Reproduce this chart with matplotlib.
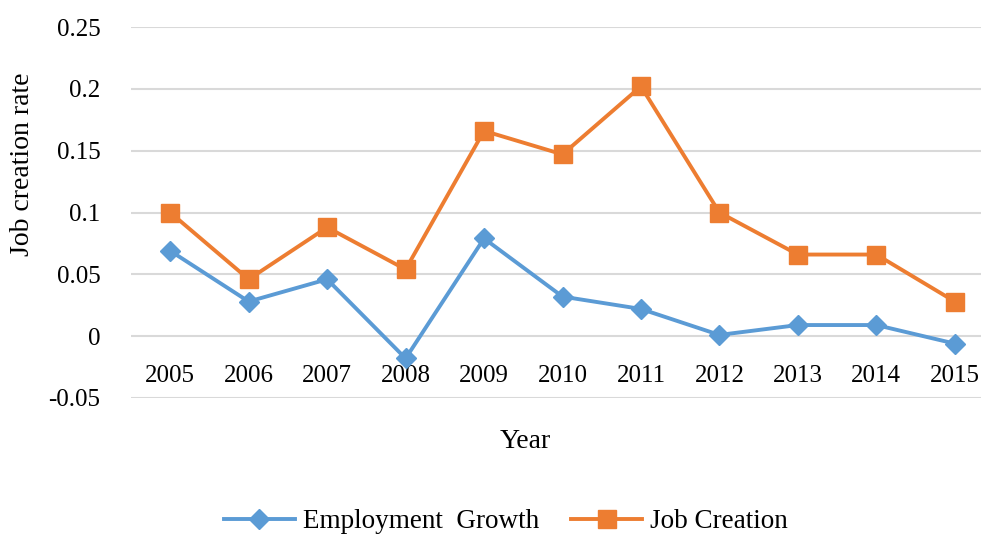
import matplotlib
matplotlib.use("Agg")
import matplotlib.pyplot as plt
from matplotlib.lines import Line2D

years = ["2005", "2006", "2007", "2008", "2009", "2010", "2011", "2012", "2013", "2014", "2015"]
employment_growth = [0.069, 0.028, 0.046, -0.018, 0.079, 0.032, 0.022, 0.001, 0.009, 0.009, -0.006]
job_creation = [0.100, 0.046, 0.088, 0.054, 0.166, 0.147, 0.202, 0.100, 0.066, 0.066, 0.028]
yticks = [-0.05, 0, 0.05, 0.1, 0.15, 0.2, 0.25]
ytick_labels = ["-0.05", "0", "0.05", "0.1", "0.15", "0.2", "0.25"]

plt.rcParams['font.family'] = ['Liberation Serif', 'DejaVu Serif']

W, H = 981, 535
fig = plt.figure(figsize=(W / 100, H / 100), dpi=100)
left, right, top, bottom = 131, 994, 27, 398
ax = fig.add_axes([left / W, 1 - bottom / H, (right - left) / W, (bottom - top) / H])

blue = "#5B9BD5"
orange = "#ED7D31"
x = list(range(len(years)))
ax.plot(x, employment_growth, color=blue, lw=2.8, marker="D", ms=10, zorder=3)
ax.plot(x, job_creation, color=orange, lw=2.8, marker="s", ms=13, zorder=3)

ax.set_xlim(-0.5, len(years) - 0.5)
ax.set_ylim(-0.05, 0.25)
ax.set_yticks(yticks)
ax.set_yticklabels(ytick_labels)
ax.yaxis.grid(True, color="#D9D9D9", lw=1.5)
ax.set_axisbelow(True)
for s in ax.spines.values():
    s.set_visible(False)
ax.spines['bottom'].set_position(('data', 0))
ax.set_xticks(x)
ax.set_xticklabels(years)
ax.tick_params(axis='x', length=0, pad=21, labelsize=18)
ax.tick_params(axis='y', length=0, pad=22, labelsize=18)

fig.text(23 / W, 1 - 164 / H, "Job creation rate", rotation=90, ha="center", va="center", fontsize=20)
fig.text(525 / W, 1 - 441 / H, "Year", ha="center", va="center", fontsize=20)

handles = [Line2D([], [], color=blue, lw=2.8, marker="D", ms=10),
           Line2D([], [], color=orange, lw=2.8, marker="s", ms=13)]
fig.legend(handles, ["Employment  Growth", "Job Creation"], loc="center",
           bbox_to_anchor=(506 / W, 1 - 522 / H), ncol=2, frameon=False,
           fontsize=19.5, handlelength=2.6, columnspacing=1.2, handletextpad=0.3)

fig.savefig("out.png", dpi=100)
